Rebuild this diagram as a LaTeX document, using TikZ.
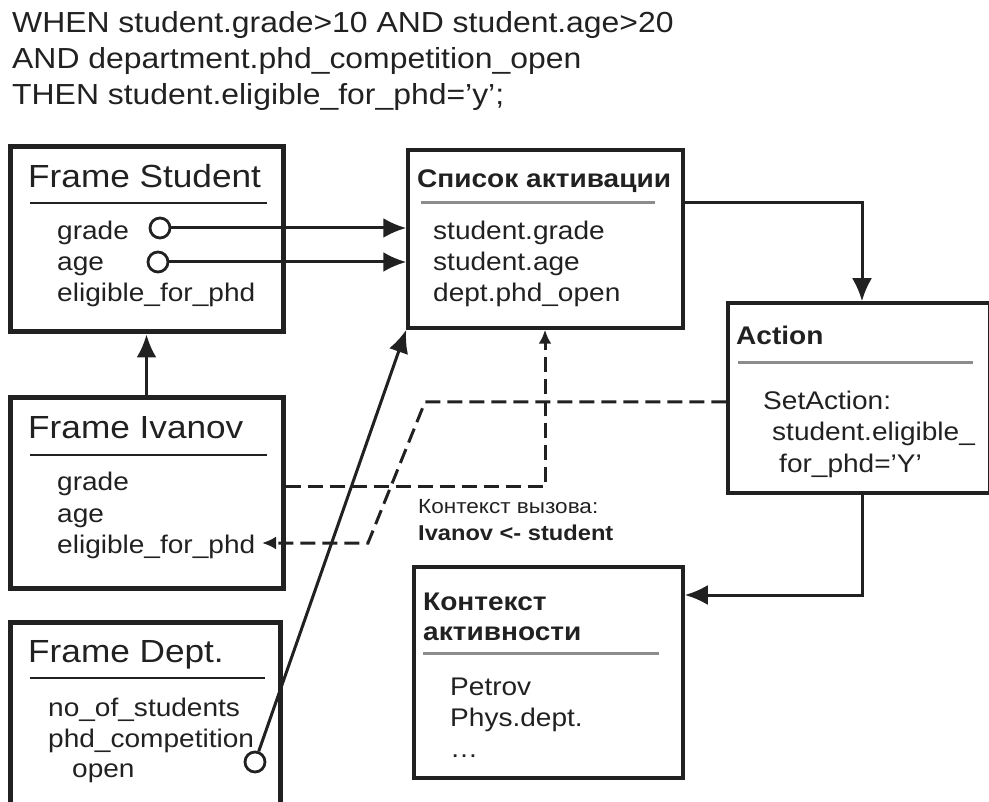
\documentclass[tikz,border=0pt]{standalone}
\usepackage{fontspec}
\setmainfont[FakeStretch=1.1]{Liberation Sans}
\usetikzlibrary{arrows.meta}
\definecolor{ink}{gray}{0.13}
\definecolor{sepgray}{gray}{0.55}

\begin{document}
\begin{tikzpicture}[
x=1pt, y=-1pt,
>={Latex[length=23pt,width=20pt]},   % arrow tips
every node/.style={inner sep=0pt, text=ink},
frame/.style={draw=ink, line width=5pt},
listbox/.style={draw=ink, line width=3.5pt},
ruletext/.style={anchor=base west, font=\fontsize{29}{36}\selectfont},
ftitle/.style={anchor=base west, font=\fontsize{32}{36}\selectfont},
btitle/.style={anchor=base west, font=\bfseries\fontsize{25.5}{30}\selectfont},
item/.style={anchor=base west, font=\fontsize{25.5}{31}\selectfont},
slot/.style={circle, draw=ink, line width=2.8pt, minimum size=20pt},
link/.style={draw=ink, line width=3pt},
dashlink/.style={link, dash pattern=on 15pt off 7pt, >={Latex[length=14pt,width=13pt]}},
thinsep/.style={draw=ink, line width=2pt},
graysep/.style={draw=sepgray, line width=3pt}
]
\useasboundingbox (0,0) rectangle (989,802);

% Regel
\foreach \t [count=\i] in {{WHEN student.grade>10 AND student.age>20},{AND department.phd\_competition\_open},{THEN student.eligible\_for\_phd='y';}}
\node[ruletext] (rule\i) at (12,-3+36*\i) {\t};

% Frame Student
\node[frame, minimum width=273pt, minimum height=185pt] (student) at (146.5,239.5) {};
\node[ftitle] (studenttitle) at (28,188) {Frame Student};
\draw[thinsep] (30,203) -- (267,203);
\foreach \t [count=\i] in {grade,age,eligible\_for\_phd}
\node[item] (studentitem\i) at (57,209+31*\i) {\t};
\node[slot] (cgrade) at (160,228) {};
\node[slot] (cage) at (158,262) {};

% Frame Ivanov
\node[frame, minimum width=273pt, minimum height=190pt] (ivanov) at (146.5,493) {};
\node[ftitle] (ivanovtitle) at (28,439) {Frame Ivanov};
\draw[thinsep] (30,455) -- (267,455);
\foreach \t [count=\i] in {grade,age,eligible\_for\_phd}
\node[item] (ivanovitem\i) at (57,460+31*\i) {\t};

% Frame Dept.
\node[frame, minimum width=270pt, minimum height=190pt] (dept) at (145,717) {};
\node[ftitle] (depttitle) at (28,662) {Frame Dept.};
\draw[thinsep] (30,678) -- (265,678);
\node[item] (deptitem1) at (48,716) {no\_of\_students};
\node[item] (deptitem2) at (48,747) {phd\_competition};
\node[item] (deptitem3) at (72,777) {open};
\node[slot] (cdept) at (255,762) {};

% Список активации
\node[listbox, minimum width=275pt, minimum height=178pt] (actlist) at (545.5,239) {};
\node[btitle] (actlisttitle) at (417,188) {Список активации};
\draw[graysep] (421,203) -- (655,203);
\foreach \t [count=\i] in {student.grade,student.age,dept.phd\_open}
\node[item] (actlistitem\i) at (433,209+31*\i) {\t};

% Action
\node[listbox, minimum width=262pt, minimum height=190pt] (action) at (859,398) {};
\node[btitle] (actiontitle) at (736,345) {Action};
\draw[graysep] (738,363) -- (973,363);
\node[item] (actionitem1) at (763,410) {SetAction:};
\node[item] (actionitem2) at (772,441) {student.eligible\_};
\node[item] (actionitem3) at (779,472) {for\_phd='Y'};

% Контекст активности
\node[listbox, minimum width=269pt, minimum height=211pt] (actctx) at (548.5,672.5) {};
\node[btitle] (actctxtitle1) at (423,610) {Контекст};
\node[btitle] (actctxtitle2) at (423,640) {активности};
\draw[graysep] (423,653) -- (659,653);
\foreach \t [count=\i] in {Petrov,Phys.dept.,\ldots}
\node[item] (actctxitem\i) at (450,664+31*\i) {\t};

% Kontext des Aufrufs
\node[anchor=base west, font=\fontsize{20.5}{24}\selectfont] (calllabel) at (418,513) {Контекст вызова:};
\node[anchor=base west, font=\bfseries\fontsize{21.5}{24}\selectfont] (callbind) at (418,540) {Ivanov <- student};

% Verbindungen
\draw[link,->] (cgrade) -- (actlist.west |- cgrade);
\draw[link,->] (cage) -- (actlist.west |- cage);
\draw[link,->] (ivanov.north) -- (student.south);
\draw[link,->] (cdept) -- (actlist.south west);
\coordinate (turn) at (862,203);
\draw[link,->] (actlist.east |- turn) -| (action.north -| turn);
\coordinate (turnb) at (862,595);
\draw[link,->] (action.south -| turnb) |- (actctx.east |- turnb);

% gestrichelt
\coordinate (callup) at (545,487);
\draw[dashlink,->] (ivanov.east |- callup) -| (actlist.south -| callup);
\coordinate (bindA) at (425,402);
\coordinate (bindB) at (368,543);
\coordinate (phdtip) at (262,543);
\draw[dashlink,->] (action.west |- bindA) -- (bindA) -- (bindB) -- (phdtip);
\end{tikzpicture}
\end{document}
